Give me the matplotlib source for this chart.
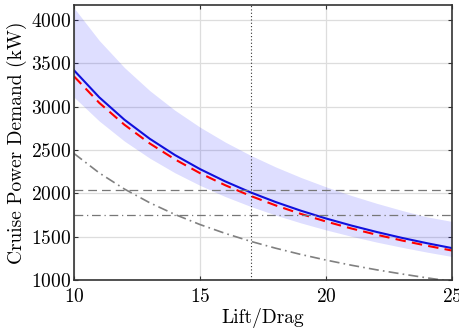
import numpy as np
import matplotlib
matplotlib.use("Agg")
import matplotlib.pyplot as plt

plt.rcParams["font.family"] = "serif"
plt.rcParams["font.serif"] = ["cmr10"]
plt.rcParams["mathtext.fontset"] = "cm"
plt.rcParams["axes.formatter.use_mathtext"] = True

# values
lift_drag = [10, 11, 12, 13, 14, 15, 16, 17, 18, 19, 20, 21, 22, 23, 24, 25]
power_mean = [3420, 3109, 2850, 2631, 2443, 2280, 2138, 2012, 1900, 1800,
              1710, 1629, 1555, 1487, 1425, 1368]
power_alt = [3350, 3045, 2792, 2577, 2393, 2233, 2094, 1971, 1861, 1763,
             1675, 1595, 1523, 1457, 1396, 1340]
band_upper = [4140, 3765, 3452, 3187, 2960, 2764, 2592, 2440, 2305, 2184,
              2075, 1976, 1886, 1804, 1729, 1676]
band_lower = [3110, 2835, 2603, 2407, 2238, 2092, 1963, 1850, 1749, 1659,
              1578, 1505, 1438, 1378, 1322, 1271]
power_low = [2460, 2236, 2050, 1892, 1757, 1640, 1538, 1447, 1367, 1295,
             1230, 1171, 1118, 1070, 1025, 984]
hline_dashed = 2035
hline_dashdot = 1750
vline_ld = 17

fig = plt.figure(figsize=(4.6, 3.31), dpi=100)
ax = fig.add_axes([0.161, 0.154, 0.822, 0.831])

ax.fill_between(lift_drag, band_lower, band_upper, color="blue", alpha=0.13, lw=0)
ax.plot(lift_drag, power_mean, color="#1010dd", lw=1.5)
ax.plot(lift_drag, power_alt, color="red", lw=1.5, ls=(0, (5, 3)))
ax.plot(lift_drag, power_low, color="gray", lw=1.2, ls=(0, (6, 2.5, 1, 2.5)))
ax.axhline(hline_dashed, color="#777777", lw=0.9, ls=(0, (7, 4)))
ax.axhline(hline_dashdot, color="#777777", lw=0.9, ls=(0, (7, 3, 1, 3)))
ax.axvline(vline_ld, color="#333333", lw=0.8, ls=(0, (1, 2)))

ax.set_xlim(10, 25)
ax.set_ylim(1000, 4175)
ax.set_xticks([10, 15, 20, 25])
ax.set_yticks([1000, 1500, 2000, 2500, 3000, 3500, 4000])
ax.grid(True, color="#dddddd", lw=0.9)
ax.set_axisbelow(True)
ax.tick_params(direction="in", top=True, right=True, labelsize=14,
               length=3, color="#333333")
ax.tick_params(axis="y", pad=2)
ax.tick_params(axis="x", pad=6)
for sp in ax.spines.values():
    sp.set_color("#333333")
    sp.set_linewidth(1.2)

ax.set_xlabel("Lift/Drag", fontsize=14, labelpad=1)
ax.set_ylabel("Cruise Power Demand (kW)", fontsize=14, labelpad=3)

fig.savefig("out.png", dpi=100)
